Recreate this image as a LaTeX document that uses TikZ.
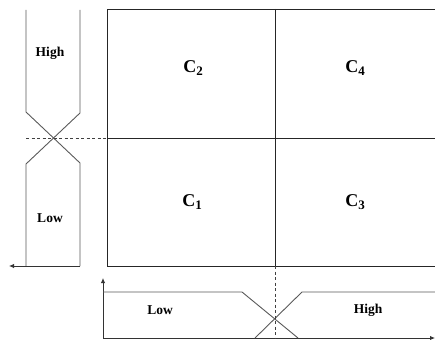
\documentclass[tikz,border=0pt]{standalone}
\usepackage{fontspec}
\setmainfont{Liberation Serif}
\usetikzlibrary{arrows.meta}
\begin{document}
\begin{tikzpicture}[x=1pt,y=-1pt,
  grid/.style={draw=black!85,line width=0.9pt},
  mf/.style={draw=black!65,line width=0.9pt},
  dsh/.style={draw=black!75,line width=0.8pt,dash pattern=on 3pt off 2.5pt},
  axarrow/.style={draw=black!80,line width=0.9pt,-{Latex[length=5pt,width=4.5pt]}},
  lbl/.style={font=\fontsize{13.5}{14}\selectfont\bfseries,inner sep=0pt},
  cls/.style={font=\fontsize{18}{18}\selectfont\bfseries,inner sep=0pt}]
\useasboundingbox (0,0) rectangle (435,339);
\newcommand{\csub}[1]{C{\fontsize{13}{13}\selectfont\raisebox{-2.5pt}{#1}}}
% grid
\coordinate (gtl) at (107,9);
\coordinate (gbl) at (107,266);
\coordinate (gtr) at (435,9);
\coordinate (gbr) at (435,266);
\coordinate (gmt) at (275,9);
\coordinate (gmb) at (275,266);
\coordinate (gml) at (107,138);
\coordinate (gmr) at (435,138);
\draw[grid] (gtr) -- (gtl) -- (gbl) -- (gbr);
\draw[grid] (gmt) -- (gmb);
\draw[grid] (gml) -- (gmr);
\node[cls] (c2) at (193,68) {\csub{2}};
\node[cls] (c4) at (355,68) {\csub{4}};
\node[cls] (c1) at (192,202) {\csub{1}};
\node[cls] (c3) at (355,202) {\csub{3}};
% left panel
\coordinate (la) at (26,10);
\coordinate (lb) at (26,112);
\coordinate (lc) at (80,163);
\coordinate (ld) at (80,266);
\coordinate (ra) at (80,10);
\coordinate (rb) at (80,113);
\coordinate (rc) at (26,164);
\coordinate (rd) at (26,266);
\coordinate (lend) at (9,266);
\draw[mf] (la) -- (lb) -- (lc) -- (ld);
\draw[mf] (ra) -- (rb) -- (rc) -- (rd);
\draw[axarrow] (ld) -- (lend);
\coordinate (ldash) at (26,138);
\draw[dsh] (ldash) -- (gml);
\node[lbl] (lhigh) at (50,53) {High};
\node[lbl] (llow) at (50,218) {Low};
% bottom panel
\coordinate (bo) at (103,338);
\coordinate (btop) at (103,278);
\coordinate (bend) at (435,338);
\draw[axarrow] (bo) -- (btop);
\draw[axarrow] (bo) -- (bend);
\coordinate (l1) at (103,292);
\coordinate (l2) at (242,292);
\coordinate (l3) at (298,338);
\coordinate (h1) at (255,338);
\coordinate (h2) at (302,292);
\coordinate (h3) at (435,292);
\draw[mf] (l1) -- (l2) -- (l3);
\draw[mf] (h1) -- (h2) -- (h3);
\coordinate (bdash) at (275,338);
\draw[dsh] (gmb) -- (bdash);
\node[lbl] (blow) at (160,310) {Low};
\node[lbl] (bhigh) at (368,310) {High};
\end{tikzpicture}
\end{document}
